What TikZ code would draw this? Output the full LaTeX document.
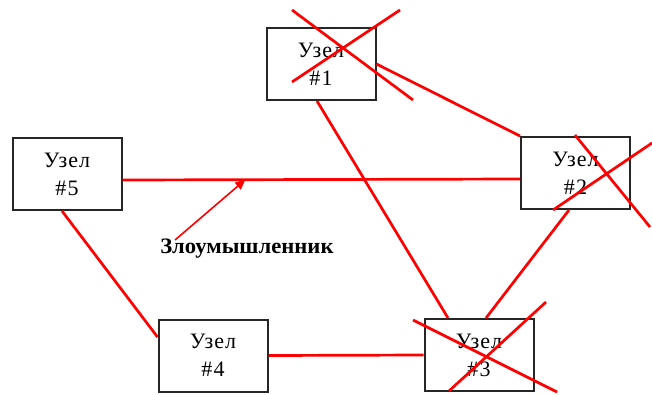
\documentclass[tikz,border=0pt]{standalone}
\usepackage{fontspec}
\setmainfont{Liberation Serif}
\usetikzlibrary{arrows.meta}
\definecolor{lnred}{RGB}{255,0,0}
\tikzset{
  nodebox/.style={draw=black!85, line width=2pt, fill=white, minimum width=109pt, minimum height=72pt,
    inner sep=0pt, align=center, font=\fontsize{22}{28}\selectfont\addfontfeatures{LetterSpace=5}},
  link/.style={draw=lnred, line width=2.7pt},
  crossline/.style={draw=lnred, line width=2.7pt},
  lbl/.style={font=\bfseries\fontsize{22}{24}\selectfont, inner sep=0pt}
}
\begin{document}
\begin{tikzpicture}[x=1pt,y=-1pt]
\useasboundingbox (0,0) rectangle (652,394);
% nodes
\node[nodebox] (n1) at (321,64) {Узел\\\#1};
\node[nodebox] (n2) at (575.5,173) {Узел\\\#2};
\node[nodebox] (n3) at (479,355) {Узел\\\#3};
\node[nodebox] (n4) at (213,355.5) {Узел\\\#4};
\node[nodebox] (n5) at (67,174) {Узел\\\#5};
% links
\draw[link] ([yshift=-6pt]n5.east) -- ([yshift=-6pt]n2.west) coordinate[pos=0.309] (hit);
\draw[link] ([xshift=-5pt]n5.south) -- ([yshift=18.5pt]n4.west);
\draw[link] (n4.east) -- (n3.west);
\draw[link] ([xshift=-4pt]n1.south) -- ([xshift=-31pt]n3.north);
\draw[link] ([xshift=-6.5pt]n2.south) -- ([xshift=7pt]n3.north);
\draw[link] (n1.east) -- (n2.north west);
% attacker
\node[lbl, xscale=1.03] (att) at (247,249) {Злоумышленник};
\coordinate (attstart) at (175,240);
\draw[draw=lnred, line width=1.6pt, -{Triangle[length=10pt,width=9pt]}] (attstart) -- (hit);
% crosses
\coordinate (c1a) at (292,10); \coordinate (c1b) at (413,100);
\coordinate (c1c) at (400,10); \coordinate (c1d) at (292,82);
\draw[crossline] (c1a) -- (c1b);
\draw[crossline] (c1c) -- (c1d);
\coordinate (c2a) at (575,135); \coordinate (c2b) at (650,227);
\coordinate (c2c) at (553,210); \coordinate (c2d) at (652,143);
\draw[crossline] (c2a) -- (c2b);
\draw[crossline] (c2c) -- (c2d);
\coordinate (c3a) at (413,320); \coordinate (c3b) at (557,392);
\coordinate (c3c) at (449,391); \coordinate (c3d) at (546,302);
\draw[crossline] (c3a) -- (c3b);
\draw[crossline] (c3c) -- (c3d);
\end{tikzpicture}
\end{document}
